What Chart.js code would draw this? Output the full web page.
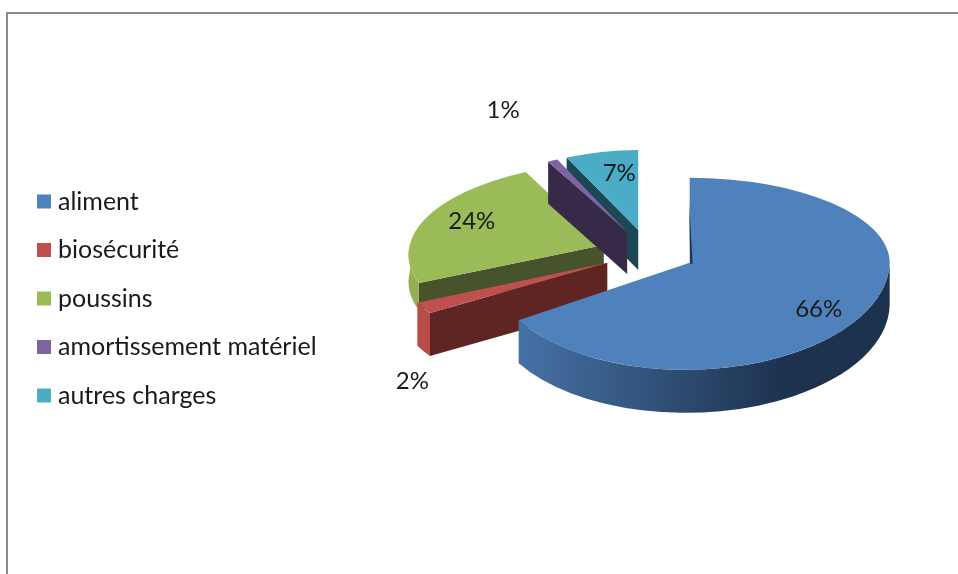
<!DOCTYPE html>
<html>
<head>
<meta charset="utf-8">
<title>Charges</title>
<script src="https://cdn.jsdelivr.net/npm/chart.js"></script>
<style>
  html, body { margin: 0; background: #fff; overflow: hidden; }
  #frame { position: absolute; left: 6px; top: 12px; width: 100%; height: 100%;
           border-left: 2px solid #8a8a8a; border-top: 2px solid #8a8a8a; }
  #chart { position: absolute; left: 0; top: 0; }
</style>
</head>
<body>
<div id="frame"></div>
<canvas id="chart" width="958" height="574"></canvas>
<script>
  const categories = ['aliment', 'biosécurité', 'poussins', 'amortissement matériel', 'autres charges'];
  const values = [66, 2, 24, 1, 7];
  const valueLabels = ['66%', '2%', '24%', '1%', '7%'];
  const colors = ['#4f81bd', '#c0504d', '#9bbb59', '#8064a2', '#4bacc6'];

  // sides of the slices
  const cutColors = ['#1f3552', '#5e2523', '#47532a', '#372a48', '#1c4855'];
  const wallStart = ['#4773a8', '#b84c49', '#93b154', '#372a48', '#1c4855'];
  const wallEnd = ['#1d324f', '#a94542', '#8aa84e', '#372a48', '#1c4855'];
  const depths = [43, 43, 27, 42, 40];

  // fake perspective, one value per slice
  const scaleX = [1, 1.05, 0.97, 0.82, 0.84];
  const tiltFront = [0.535, 0.467, 0.447, 0.4, 0.4];
  const tiltRear = [0.425, 0.467, 0.417, 0.4, 0.4];
  const shearFront = [-0.02, 0, -0.11, 0, 0];
  const shearRear = [0, 0, -0.088, 0, 0];
  const sliver = [3, 0, 0, 0, 0];

  // label position from the tip of its slice
  const labelDx = [129, -195, -132, -124, -19];
  const labelDy = [46, 118, -24, -122, -57];

  const drawOrder = [2, 4, 3, 1, 0];
  const pieX = 648.5, pieY = 252, tilt = 0.48, explode = 47;
  const fontFamily = 'Lato, "Open Sans", sans-serif';

  function slicePlace(arc) {
    const mid = (arc.startAngle + arc.endAngle) / 2;
    return {
      x: pieX + Math.cos(mid) * explode,
      y: pieY + Math.sin(mid) * explode * tilt
    };
  }

  function drawSides(ctx, arc, i, tip) {
    const k = tiltFront[i], sx = scaleX[i], sf = shearFront[i], R = arc.outerRadius, depth = depths[i];
    const a0 = arc.startAngle;
    const rear = Math.sin(a0) < 0;
    const rimK = rear ? tiltRear[i] : k;
    const shear = rear ? shearRear[i] : sf;
    const rx = tip.x + (sx * Math.cos(a0) + shear * Math.sin(a0)) * R;
    const ry = tip.y + rimK * Math.sin(a0) * R;

    // cut face on the side turned to the viewer
    if (Math.sin(a0 - Math.PI / 2) > 0.01) {
      ctx.fillStyle = cutColors[i];
      ctx.beginPath();
      ctx.moveTo(tip.x, tip.y);
      ctx.lineTo(rx, ry);
      ctx.lineTo(rx, ry + depth);
      ctx.lineTo(tip.x, tip.y + depth);
      ctx.closePath();
      ctx.fill();
    }

    // outer wall, front half only
    const from = Math.max(a0, 0), to = Math.min(arc.endAngle, Math.PI);
    if (to > from) {
      ctx.save();
      ctx.translate(tip.x, tip.y);
      ctx.transform(sx, 0, sf, k, 0, 0);
      const grad = ctx.createLinearGradient(-R * 0.87, 0, R * 0.5, 0);
      grad.addColorStop(0, wallStart[i]);
      grad.addColorStop(1, wallEnd[i]);
      ctx.fillStyle = grad;
      ctx.beginPath();
      ctx.arc(0, 0, R, from, to);
      ctx.arc(-sf * depth / k / sx, depth / k, R, to, from, true);
      ctx.closePath();
      ctx.fill();
      ctx.restore();
    }
  }

  function drawTop(ctx, chart, arc, i, tip) {
    // rear and front of a slice get their own squash
    [[tiltRear[i], shearRear[i], -1000, tip.y + 0.5], [tiltFront[i], shearFront[i], tip.y, 1000]].forEach((part) => {
      ctx.save();
      ctx.beginPath();
      ctx.rect(0, part[2], chart.width, part[3] - part[2]);
      ctx.clip();
      ctx.translate(tip.x, tip.y);
      ctx.transform(scaleX[i], 0, part[1], part[0], 0, 0);
      ctx.translate(-arc.x, -arc.y);
      arc.draw(ctx);
      ctx.restore();
    });

    // thin dark edge along the start of the big slice
    if (sliver[i]) {
      const top = tip.y - tiltRear[i] * arc.outerRadius;
      ctx.fillStyle = cutColors[i];
      ctx.beginPath();
      ctx.moveTo(tip.x - 0.5, top + (tip.y - top) * 0.3);
      ctx.lineTo(tip.x + sliver[i], tip.y + 1);
      ctx.lineTo(tip.x + 0.5, tip.y + 1);
      ctx.closePath();
      ctx.fill();
    }
  }

  const pie3d = {
    id: 'pie3d',
    beforeDatasetDraw(chart, args) {
      const ctx = chart.ctx;
      const arcs = args.meta.data;
      drawOrder.forEach((i) => {
        const tip = slicePlace(arcs[i]);
        drawSides(ctx, arcs[i], i, tip);
        drawTop(ctx, chart, arcs[i], i, tip);
      });
      ctx.save();
      ctx.fillStyle = '#1a1a1a';
      ctx.font = '24px ' + fontFamily;
      ctx.textAlign = 'center';
      ctx.textBaseline = 'middle';
      arcs.forEach((arc, i) => {
        const tip = slicePlace(arc);
        ctx.fillText(valueLabels[i], tip.x + labelDx[i], tip.y + labelDy[i]);
      });
      ctx.restore();
      return false;
    }
  };

  new Chart(document.getElementById('chart'), {
    type: 'pie',
    data: {
      labels: categories,
      datasets: [{ data: values, backgroundColor: colors, borderWidth: 0 }]
    },
    options: {
      responsive: false,
      animation: false,
      radius: 200,
      layout: { padding: { top: 23, left: 19 } },
      plugins: {
        tooltip: { enabled: false },
        legend: {
          position: 'left',
          labels: {
            usePointStyle: true,
            pointStyle: 'rect',
            boxWidth: 3,
            boxHeight: 14,
            padding: 23.5,
            color: '#1a1a1a',
            font: { family: fontFamily, size: 25 }
          }
        }
      }
    },
    plugins: [pie3d]
  });
</script>
</body>
</html>
